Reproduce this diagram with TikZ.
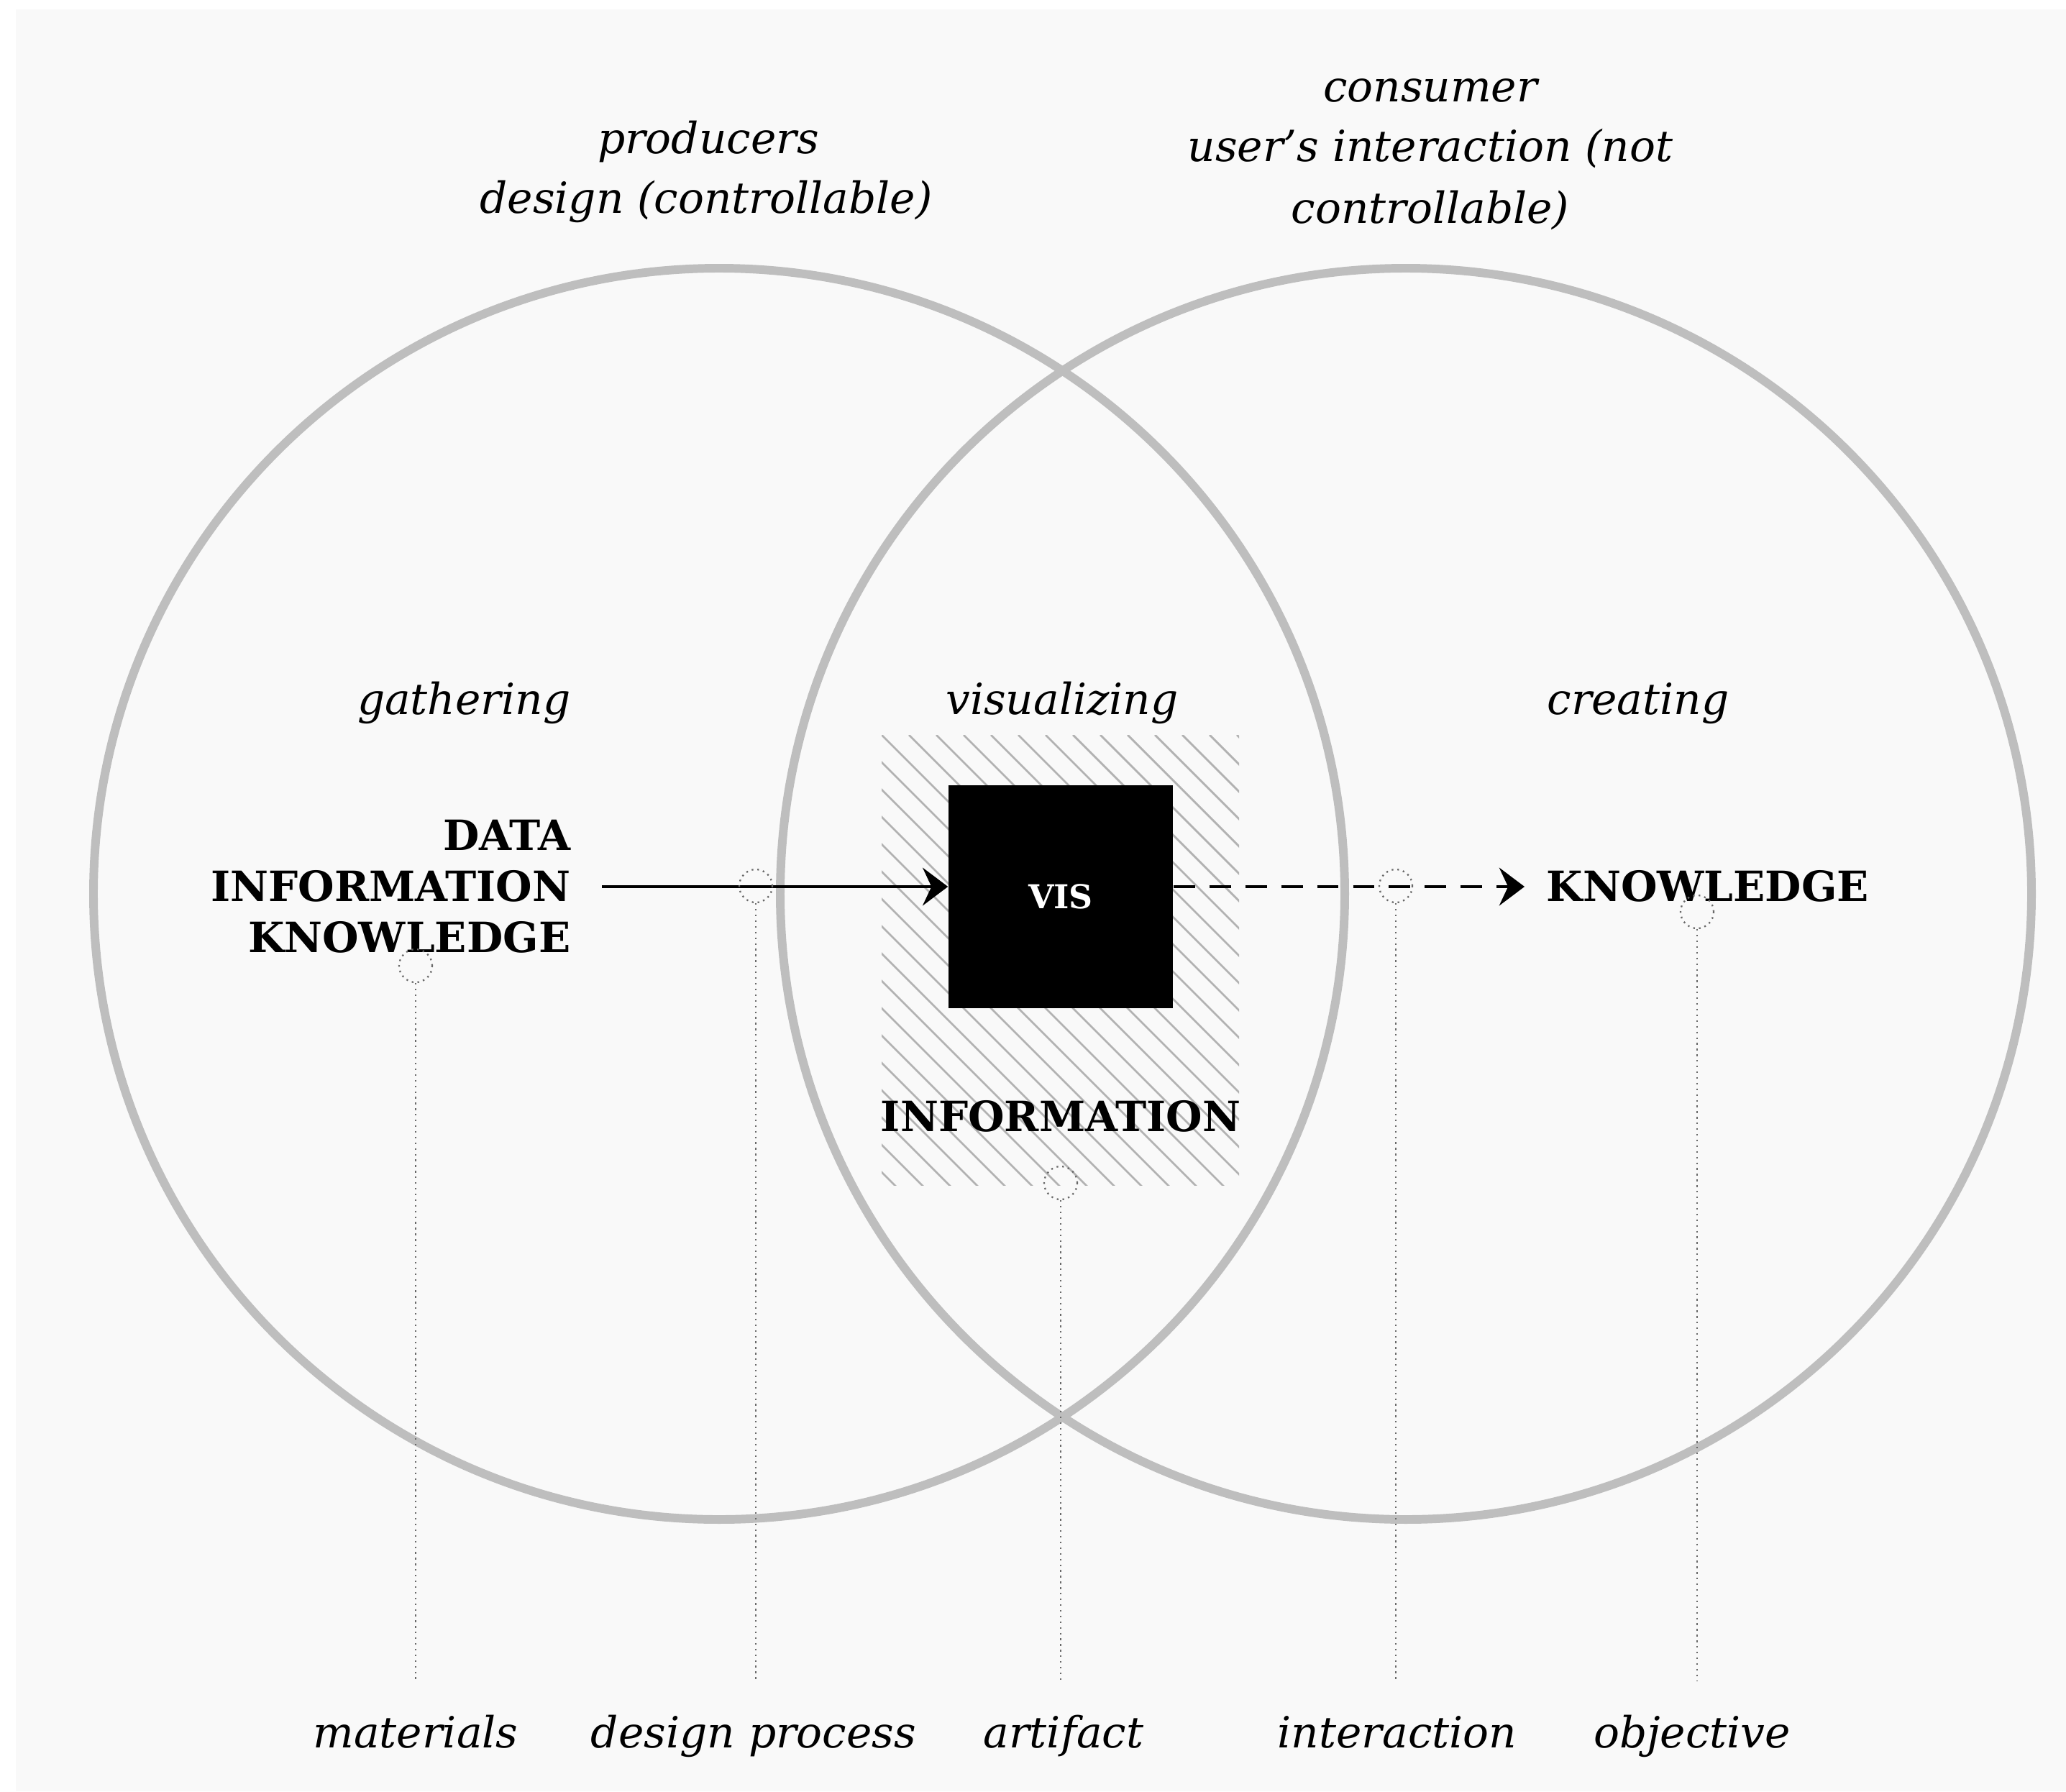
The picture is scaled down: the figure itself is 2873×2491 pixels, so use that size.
\documentclass[tikz,border=0pt]{standalone}
\usepackage{fontspec}
\setmainfont{DejaVu Serif}
\usetikzlibrary{arrows.meta}
\definecolor{bgc}{RGB}{249,249,249}
\definecolor{ringc}{RGB}{190,190,190}
\definecolor{hatchc}{RGB}{178,178,178}
\definecolor{dotc}{RGB}{105,105,105}
\begin{document}
\begin{tikzpicture}[x=0.01cm,y=-0.01cm,
  ital/.style={font=\fontsize{17}{20}\selectfont\itshape, inner sep=0pt},
  caps/.style={font=\fontsize{16.5}{20}\selectfont\bfseries, inner sep=0pt},
  ring/.style={draw=ringc, line width=3.4pt},
  hatchline/.style={draw=hatchc, line width=0.8pt},
  dotline/.style={draw=dotc, line width=0.65pt, dash pattern=on 0.65pt off 1.6pt},
  smallcirc/.style={circle, draw=dotc, line width=0.65pt, dash pattern=on 0.65pt off 1.6pt, minimum size=0.46cm, inner sep=0pt},
  visbox/.style={rectangle, fill=black, minimum width=3.12cm, minimum height=3.10cm, inner sep=0pt, text=white, font=\fontsize{13}{14}\selectfont\bfseries},
  flow/.style={line width=1.15pt, -{Stealth[length=10pt,width=15pt,inset=3.5pt]}},
  flowdash/.style={flow, dash pattern=on 8.5pt off 5.7pt}
]
\useasboundingbox (0,0) rectangle (2873,2491);
\fill[white] (0,0) rectangle (2873,2491);
\fill[bgc] (22,13) rectangle (2873,2491);

% big rings
\draw[ring] (1000,1243) circle[radius=870];
\draw[ring] (1955,1243) circle[radius=870];

% hatched area
\begin{scope}
  \clip (1226,1022) rectangle (1723,1648);
  \foreach \i in {-18,...,14} {
    \draw[hatchline] (1226+\i*38,1022) -- ++(700,700);
  }
\end{scope}

% VIS box
\node[visbox] (vis) at (1475,1247) {VIS};

% top labels
\node[ital, anchor=base] (prod1) at (985,213) {producers};
\node[ital, anchor=base] (prod2) at (982,297) {design (controllable)};
\node[ital, anchor=base] (cons1) at (1989,142) {consumer};
\node[ital, anchor=base] (cons2) at (1989,225) {user’s interaction (not};
\node[ital, anchor=base] (cons3) at (1989,310) {controllable)};

% stage labels
\node[ital, anchor=base east] (gath) at (794,993) {gathering};
\node[ital, anchor=base] (visl) at (1477,993) {visualizing};
\node[ital, anchor=base] (crea) at (2278,993) {creating};

% left stack
\node[caps, anchor=base east] (data) at (794,1182) {DATA};
\node[caps, anchor=base east] (info) at (794,1253) {INFORMATION};
\node[caps, anchor=base east] (know) at (794,1324) {KNOWLEDGE};

% center and right words
\node[caps, anchor=base] (infoc) at (1475,1573) {INFORMATION};
\node[caps, anchor=base west] (knowr) at (2150,1253) {KNOWLEDGE};

% arrows
\coordinate (s) at (837,1233);
\coordinate (tip) at (2120,1233);
\draw[flow] (s) -- (s -| vis.west);
\draw[flowdash] (s -| vis.east) -- (tip);

% small dotted circles
\node[smallcirc] (cmat) at (578,1343) {};
\node[smallcirc] (cdes) at (1051,1232) {};
\node[smallcirc] (cart) at (1475,1645) {};
\node[smallcirc] (cint) at (1941,1232) {};
\node[smallcirc] (cobj) at (2360,1268) {};

% bottom ends
\coordinate (emat) at (578,2338);
\coordinate (edes) at (1051,2338);
\coordinate (eart) at (1475,2338);
\coordinate (eint) at (1941,2338);
\coordinate (eobj) at (2360,2338);

\draw[dotline] (cmat.south) -- (emat);
\draw[dotline] (cdes.south) -- (edes);
\draw[dotline] (cart.south) -- (eart);
\draw[dotline] (cint.south) -- (eint);
\draw[dotline] (cobj.south) -- (eobj);

% bottom labels
\node[ital, anchor=base] (lmat) at (578,2430) {materials};
\node[ital, anchor=base] (ldes) at (1048,2430) {design process};
\node[ital, anchor=base] (lart) at (1479,2430) {artifact};
\node[ital, anchor=base] (lint) at (1943,2430) {interaction};
\node[ital, anchor=base] (lobj) at (2353,2430) {objective};
\end{tikzpicture}
\end{document}
